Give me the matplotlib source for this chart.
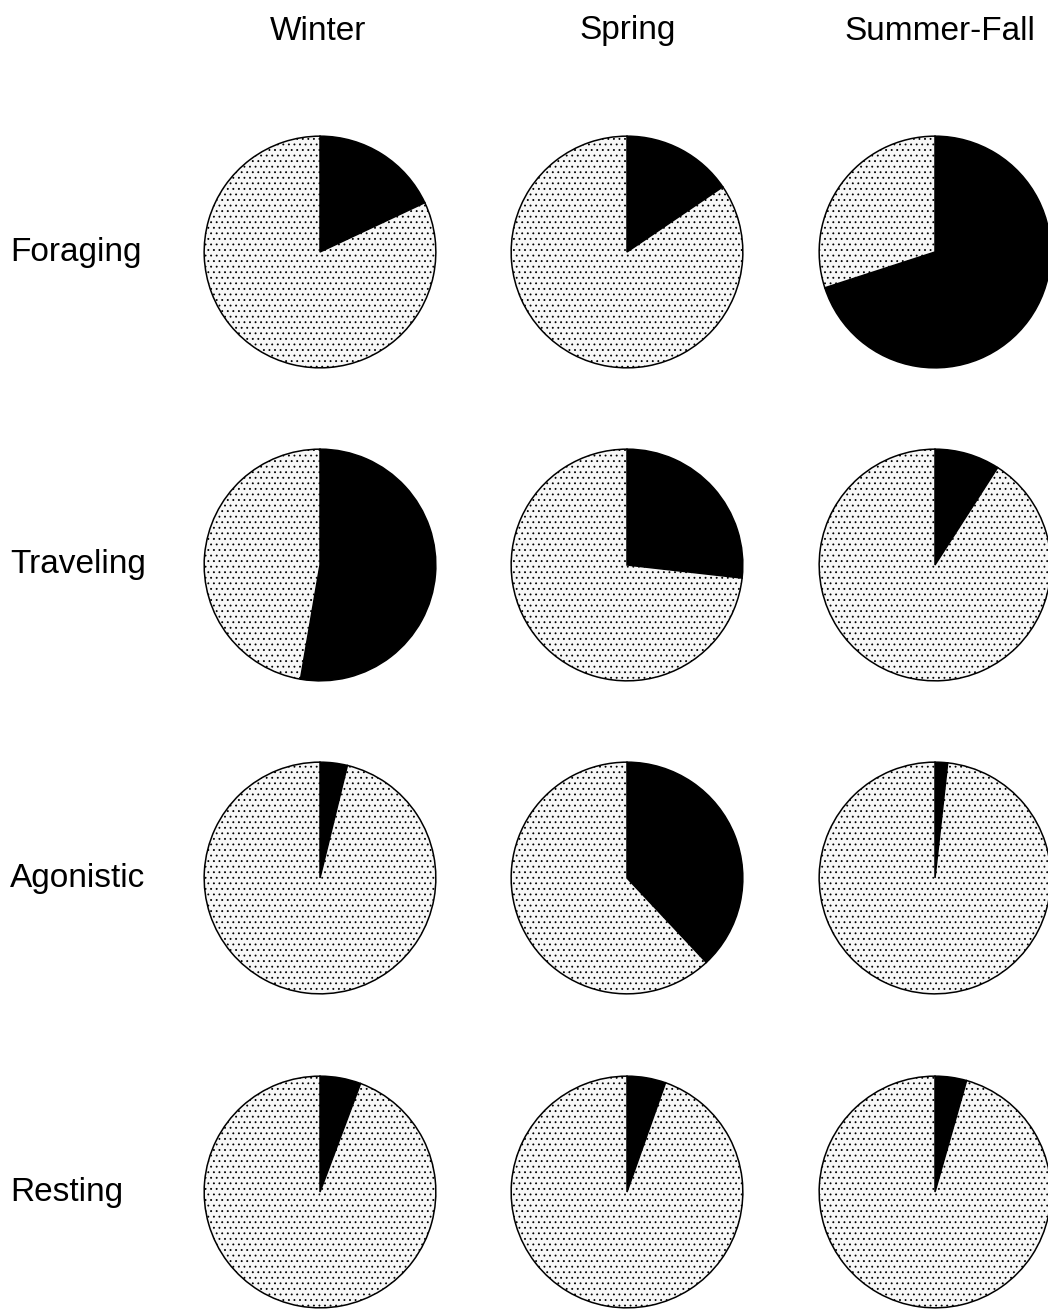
"""Seasonal activity budgets shown as a grid of pie charts."""

import matplotlib
matplotlib.use('Agg')
import matplotlib.pyplot as plt

seasons = ['Winter', 'Spring', 'Summer-Fall']
behaviours = ['Foraging', 'Traveling', 'Agonistic', 'Resting']

# proportion of time (black wedge) per behaviour, one value per season
foraging = [0.18, 0.155, 0.70]
traveling = [0.527, 0.268, 0.091]
agonistic = [0.038, 0.38, 0.0175]
resting = [0.057, 0.054, 0.044]

shares = [foraging, traveling, agonistic, resting]

W, H = 1048, 1309
plt.rcParams['font.family'] = ['Liberation Sans', 'DejaVu Sans']
plt.rcParams['hatch.color'] = '#a8a8a8'
plt.rcParams['hatch.linewidth'] = 0.6

fig = plt.figure(figsize=(W / 100, H / 100), dpi=100)

col_x = [320, 627, 935]
title_x = [318, 628, 940]
row_y = [252, 565, 878, 1192]
r = 117

for j, s in enumerate(seasons):
  fig.text(title_x[j] / W, 1 - 31 / H, s, ha='center', va='center', fontsize=24)

for i, b in enumerate(behaviours):
  fig.text(10 / W, 1 - row_y[i] / H, b, ha='left', va='center', fontsize=24)
  for j in range(len(seasons)):
    p = shares[i][j]
    ax = fig.add_axes([(col_x[j] - r) / W, 1 - (row_y[i] + r) / H, 2 * r / W, 2 * r / H])
    wedges, _ = ax.pie([p, 1 - p], colors=['black', '#f7f7f7'], startangle=90,
                       counterclock=False, radius=1,
                       wedgeprops=dict(edgecolor='black', linewidth=1.1))
    wedges[1].set_hatch('...')
    ax.set_xlim(-1.01, 1.01)
    ax.set_ylim(-1.01, 1.01)
    ax.set_aspect('equal')
    ax.axis('off')

fig.savefig('out.png', dpi=100)
